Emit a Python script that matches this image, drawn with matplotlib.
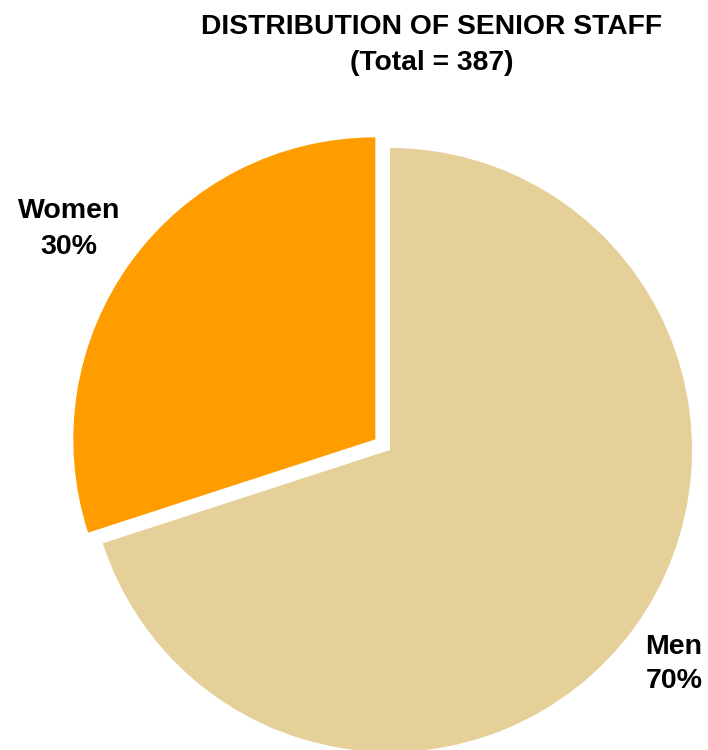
import matplotlib
matplotlib.use("Agg")
import matplotlib.pyplot as plt

categories = ["Women", "Men"]
values = [30, 70]
colors = ["#FF9C00", "#E5D09A"]
title_lines = ["DISTRIBUTION OF SENIOR STAFF", "(Total = 387)"]

W, H = 708, 750
fig = plt.figure(figsize=(W / 100, H / 100), dpi=100)
fig.patch.set_facecolor("white")

cx, cy, r = 390, 450, 302
lim = 1.25
half = lim * r
ax = fig.add_axes([(cx - half) / W, (H - cy - half) / H, 2 * half / W, 2 * half / H])
ax.set_xlim(-lim, lim)
ax.set_ylim(-lim, lim)
ax.set_aspect("equal")
ax.axis("off")

wedges, _ = ax.pie(values, colors=colors, startangle=90, counterclock=True,
                   explode=[0.06, 0], radius=1, labels=None,
                   wedgeprops=dict(linewidth=0))
for w in wedges:
    w.set_clip_on(False)

font = "Liberation Sans"
fig.text(69 / W, 1 - 229 / H, f"{categories[0]}\n{values[0]}%", ha="center", va="center",
         fontsize=20.5, fontweight="bold", family=font, linespacing=1.45)
fig.text(674 / W, 1 - 664 / H, f"{categories[1]}\n{values[1]}%", ha="center", va="center",
         fontsize=20.5, fontweight="bold", family=font, linespacing=1.45)

fig.text(432 / W, 1 - 27 / H, title_lines[0], ha="center", va="center",
         fontsize=20.3, fontweight="bold", family=font)
fig.text(432 / W, 1 - 63 / H, title_lines[1], ha="center", va="center",
         fontsize=20.3, fontweight="bold", family=font)

fig.savefig("out.png", dpi=100, facecolor="white")
